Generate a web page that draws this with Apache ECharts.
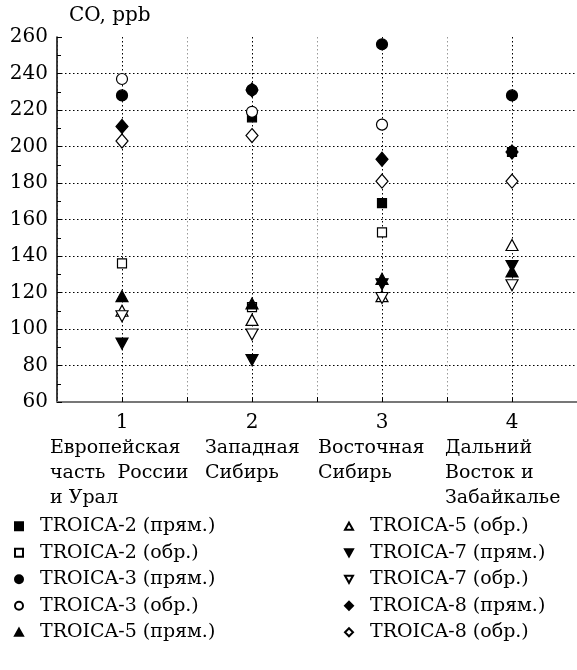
<!DOCTYPE html>
<html>
<head>
<meta charset="utf-8">
<script src="https://cdn.jsdelivr.net/npm/echarts@6/dist/echarts.min.js"></script>
<style>
html,body{margin:0;padding:0;background:#fff;}
#chart{width:577px;height:670px;}
</style>
</head>
<body>
<div id="chart"></div>
<script>
// ---- data ----
const categories = [1, 2, 3, 4];
const regionNames = [
  'Европейская\nчасть  России\nи Урал',
  'Западная\nСибирь',
  'Восточная\nСибирь',
  'Дальний\nВосток и\nЗабайкалье'
];
const seriesNames = [
  'TROICA-2 (прям.)', 'TROICA-2 (обр.)', 'TROICA-3 (прям.)', 'TROICA-3 (обр.)',
  'TROICA-5 (прям.)', 'TROICA-5 (обр.)', 'TROICA-7 (прям.)', 'TROICA-7 (обр.)',
  'TROICA-8 (прям.)', 'TROICA-8 (обр.)'
];
const troica2Direct  = [null, 216, 169, 197];
const troica2Return  = [136, 112, 153, null];
const troica3Direct  = [228, 231, 256, 228];
const troica3Return  = [237, 219, 212, null];
const troica5Direct  = [118, 114, 127.5, 131.5];
const troica5Return  = [110, 105, 118, 146];
const troica7Direct  = [92, 83, 124.5, 134.5];
const troica7Return  = [107, 97, 117, 124];
const troica8Direct  = [211, 231, 193, 197];
const troica8Return  = [203, 206, 181, 181];
const yTicks = [60, 80, 100, 120, 140, 160, 180, 200, 220, 240, 260];
const yTitle = 'CO, ppb';

const values = [troica2Direct, troica2Return, troica3Direct, troica3Return,
  troica5Direct, troica5Return, troica7Direct, troica7Return,
  troica8Direct, troica8Return];

const FONT = 'DejaVu Serif';
const triDown = 'path://M0,0L10,0L5,9Z';
const triUp = 'path://M5,0L10,9L0,9Z';
const styles = [
  {symbol: 'rect', size: 9, fill: '#000'},
  {symbol: 'rect', size: 9, fill: '#fff'},
  {symbol: 'circle', size: 11, fill: '#000'},
  {symbol: 'circle', size: 11, fill: '#fff'},
  {symbol: triUp, size: [12, 11], fill: '#000'},
  {symbol: triUp, size: [12, 11], fill: '#fff'},
  {symbol: triDown, size: [12, 11], fill: '#000'},
  {symbol: triDown, size: [12, 11], fill: '#fff'},
  {symbol: 'diamond', size: [12, 14], fill: '#000'},
  {symbol: 'diamond', size: [12, 14], fill: '#fff'}
];

const series = seriesNames.map((name, i) => ({
  name: name,
  type: 'scatter',
  symbol: styles[i].symbol,
  symbolSize: styles[i].size,
  itemStyle: {color: styles[i].fill, borderColor: '#000', borderWidth: 1.2, opacity: 1},
  emphasis: {disabled: true},
  data: categories.map((c, k) => values[i][k] == null ? null : [c, values[i][k]]).filter(d => d)
}));

const ySplitColors = yTicks.map((v, i) => (i === 0 || i === yTicks.length - 1) ? 'rgba(0,0,0,0)' : '#000');

const chart = echarts.init(document.getElementById('chart'), null, {renderer: 'canvas'});
const legendCommon = {
  orient: 'vertical',
  itemWidth: 8,
  itemHeight: 8,
  itemGap: 6,
  symbolKeepAspect: true,
  selectedMode: false,
  textStyle: {fontFamily: FONT, fontSize: 19, color: '#000', lineHeight: 20.5, padding: [0, 0, 0, 12]}
};
chart.setOption({
  animation: false,
  backgroundColor: '#fff',
  grid: {left: 57, right: 0, top: 37, bottom: 268, containLabel: false},
  xAxis: {
    type: 'value',
    min: 0.5, max: 4.5, interval: 0.5,
    axisLine: {show: true, onZero: false, lineStyle: {color: '#777', width: 2}},
    axisTick: {show: true, inside: true, length: 5, lineStyle: {color: '#000'}},
    axisLabel: {
      fontFamily: FONT, fontSize: 20, color: '#000', margin: 11,
      formatter: v => Number.isInteger(v) ? String(v) : '',
      showMinLabel: false, showMaxLabel: false
    },
    splitLine: {show: true, lineStyle: {color: ['#999', '#000'], type: [1.5, 2.5], width: 1}}
  },
  yAxis: {
    type: 'value',
    min: 60, max: 260, interval: 20,
    name: yTitle,
    nameLocation: 'end',
    nameGap: 11,
    nameTextStyle: {fontFamily: FONT, fontSize: 20, color: '#000', align: 'left', padding: [0, 0, 0, 12]},
    axisLine: {show: true, lineStyle: {color: '#000', width: 1.5}},
    axisTick: {show: true, inside: true, length: 5, lineStyle: {color: '#000'}},
    minorTick: {show: true, splitNumber: 2, length: 4, lineStyle: {color: '#000'}},
    axisLabel: {fontFamily: FONT, fontSize: 20, color: '#000', margin: 9},
    splitLine: {show: true, lineStyle: {color: ySplitColors, type: [1.5, 2.5], width: 1}}
  },
  legend: [
    Object.assign({left: 9, top: 511, data: seriesNames.slice(0, 5)}, legendCommon),
    Object.assign({left: 339, top: 511, data: seriesNames.slice(5)}, legendCommon)
  ],
  graphic: [],
  series: series
});

// region names under axis numbers
const lefts = [50, 205, 318, 445];
chart.setOption({
  graphic: regionNames.map((t, i) => ({
    type: 'text',
    left: lefts[i],
    top: 436,
    style: {text: t, fontFamily: FONT, fontSize: 19, fill: '#000', lineHeight: 25}
  }))
});
</script>
</body>
</html>
